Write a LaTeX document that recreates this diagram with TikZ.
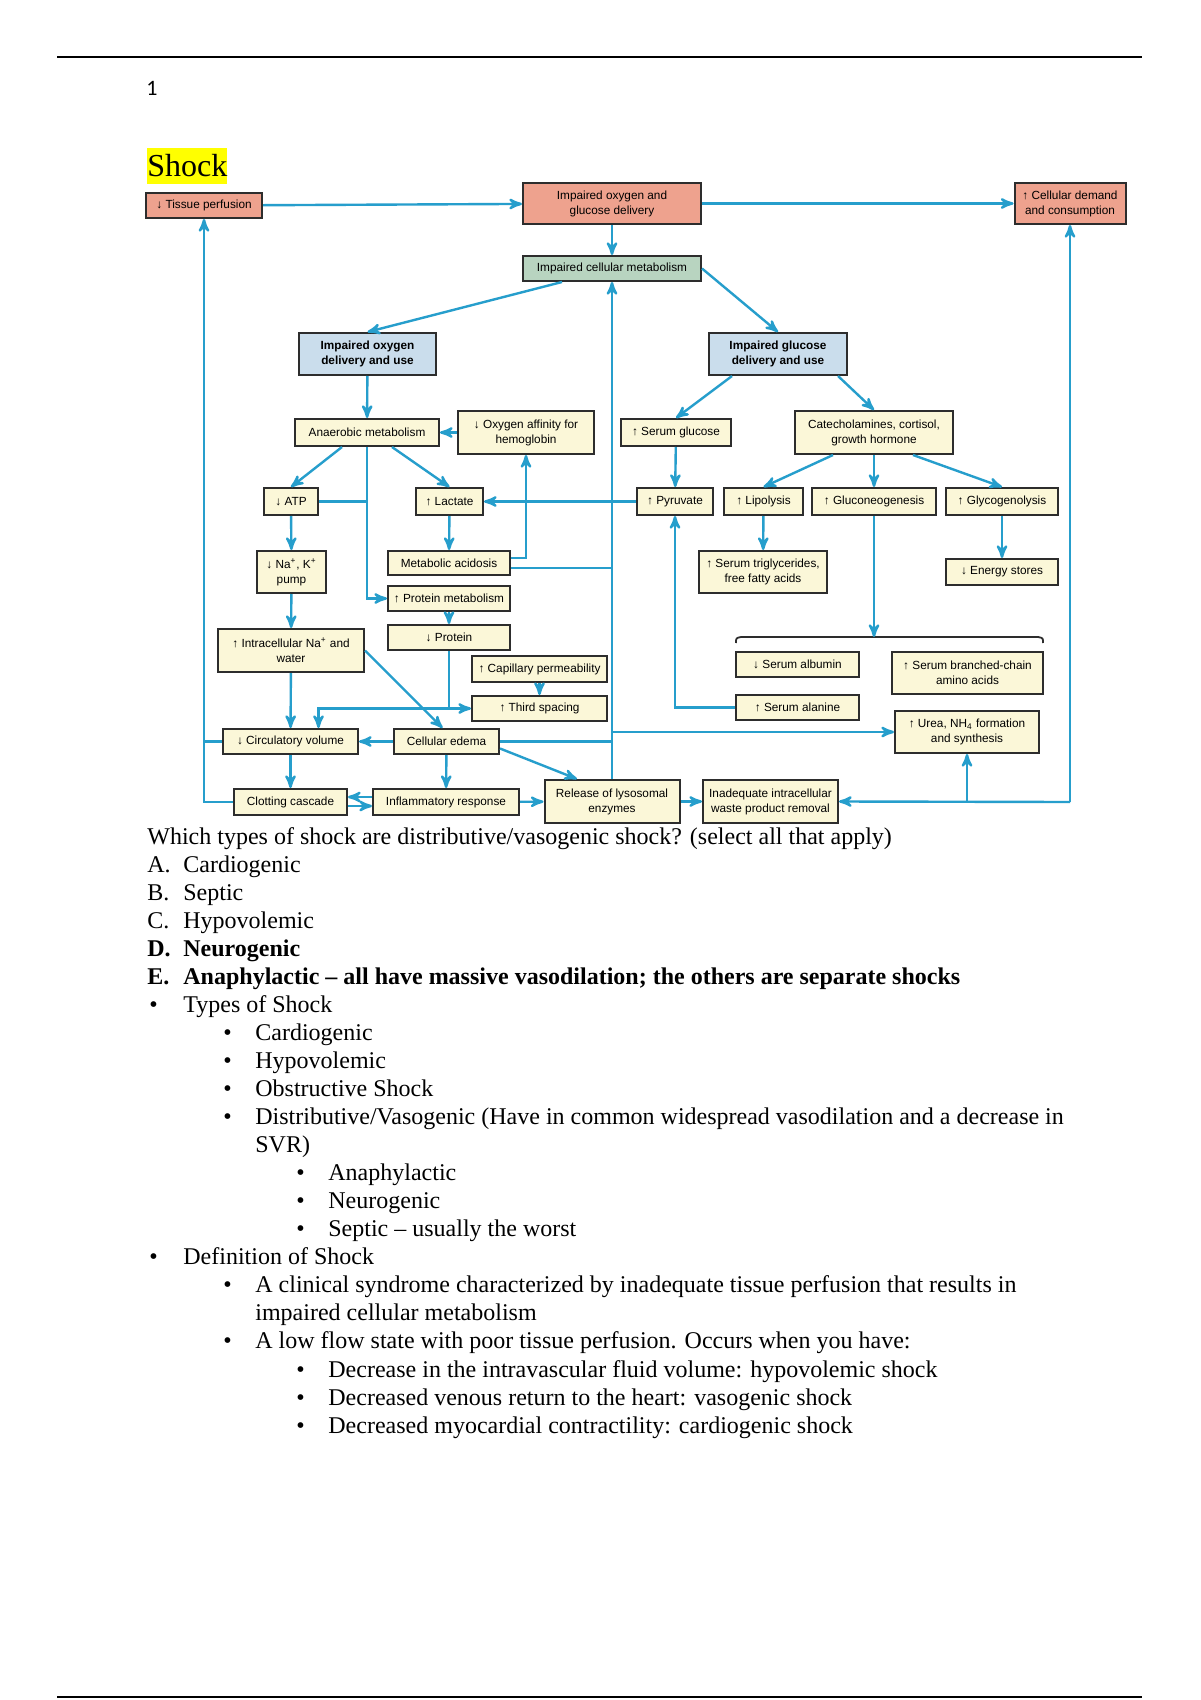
\documentclass[tikz,border=0pt]{standalone}
\usepackage{fontspec}
\setmainfont{Liberation Serif}
\newfontfamily\diagfont{Liberation Sans}
\newfontfamily\pagenumfont{Carlito}
\usepackage{xcolor}
\usepackage{tikz}
\usetikzlibrary{arrows,positioning,calc}
\definecolor{flowblue}{RGB}{38,158,204}
\definecolor{salmon}{RGB}{238,162,142}
\definecolor{sage}{RGB}{184,212,192}
\definecolor{paleblue}{RGB}{202,221,236}
\definecolor{cream}{RGB}{251,247,216}
\definecolor{boxline}{RGB}{45,45,45}
\definecolor{marker}{RGB}{255,255,0}

\begin{document}
\begin{tikzpicture}
      [x=0.5pt, y=-0.5pt, box/.style={draw=boxline, line width=1pt,
        fill=cream, align=center, inner sep=0pt,
        font=\diagfont\fontsize{5.9}{7.5}\selectfont}, dims/.style 2
      args={minimum width=#1*0.5pt, minimum height=#2*0.5pt},
      hot/.style={box, fill=salmon}, cell/.style={box, fill=sage},
      lead/.style={box, fill=paleblue,
        font=\diagfont\bfseries\fontsize{5.9}{7.5}\selectfont},
      post/.style={->, >=stealth', draw=flowblue, line width=1.2pt},
      link/.style={draw=flowblue, line width=1.2pt}, body/.style={anchor=base
        west, inner sep=0pt, font=\fontsize{12}{14}\selectfont}]

      \fill[white] (0,0) rectangle (1200,1700);
      \useasboundingbox (0,0) rectangle (1200,1700);
      \draw[line width=1.4pt] (57,57) -- (1142,57);
      \draw[line width=1.4pt] (57,1697) -- (1142,1697);

      \node [anchor=base west, inner sep=0pt, font=\pagenumfont\fontsize{11}{13}\selectfont]
      (PageNum) at (146,96) {1};
      \node [anchor=base west, inner xsep=0pt, inner ysep=0pt, fill=marker,
      text height=14.3pt, text depth=3.3pt, font=\fontsize{16}{18}\selectfont]
      (Title) at (147,177) {Shock};

      % top row
      \node [hot, dims={116}{25}] (Tissue) at (204,205.5) {↓ Tissue perfusion};
      \node [hot, dims={178}{41}] (OxGlu) at (612,203.5) {Impaired oxygen and\\glucose delivery};
      \node [hot, dims={111}{41}] (Demand) at (1070,203.5) {↑ Cellular demand\\and consumption};
      \node [cell, dims={178}{25}] (CellMet) at (612,268.5) {Impaired cellular metabolism};
      \node [lead, dims={137}{42}] (OxUse) at (367.5,354) {Impaired oxygen\\delivery and use};
      \node [lead, dims={138}{42}] (GluUse) at (778,354) {Impaired glucose\\delivery and use};

      \node [box, dims={144}{27}] (Anaer) at (367,432.5) {Anaerobic metabolism};
      \node [box, dims={136}{43}] (Affin) at (526,432.5) {↓ Oxygen affinity for\\hemoglobin};
      \node [box, dims={110}{27}] (SerGlu) at (676,432.5) {↑ Serum glucose};
      \node [box, dims={158}{43}] (Catech) at (874,432.5) {Catecholamines, cortisol,\\growth hormone};

      \node [box, dims={54}{27}] (ATP) at (291,501.5) {↓ ATP};
      \node [box, dims={67}{27}] (Lact) at (449.5,501.5) {↑ Lactate};
      \node [box, dims={76}{27}] (Pyru) at (675,501.5) {↑ Pyruvate};
      \node [box, dims={79}{27}] (Lipo) at (763.5,501.5) {↑ Lipolysis};
      \node [box, dims={124}{27}] (Gluco) at (874,501.5) {↑ Gluconeogenesis};
      \node [box, dims={112}{27}] (Glyco) at (1002,501.5) {↑ Glycogenolysis};

      \node [box, dims={69}{42}] (Pump) at (291.5,572) {↓ Na\textsuperscript{+}, K\textsuperscript{+}\\pump};
      \node [box, dims={122}{24}] (Acid) at (449,563) {Metabolic acidosis};
      \node [box, dims={128}{42}] (Trig) at (763,572) {↑ Serum triglycerides,\\free fatty acids};
      \node [box, dims={112}{26}] (Energy) at (1002,572) {↓ Energy stores};
      \node [box, dims={122}{25}] (ProtMet) at (449,598.5) {↑ Protein metabolism};
      \node [box, dims={122}{25}] (Prot) at (449,637.5) {↓ Protein};
      \node [box, dims={146}{43}] (IntraNa) at (291,650.5) {↑ Intracellular Na\textsuperscript{+} and\\water};
      \node [box, dims={135}{26}] (CapPerm) at (539.5,669) {↑ Capillary permeability};
      \node [box, dims={135}{25}] (ThirdSp) at (539.5,708.5) {↑ Third spacing};
      \node [box, dims={123}{25}] (Albumin) at (797.5,664.5) {↓ Serum albumin};
      \node [box, dims={151}{42}] (Branch) at (967.5,673) {↑ Serum branched-chain\\amino acids};
      \node [box, dims={123}{25}] (Alanine) at (797.5,707.5) {↑ Serum alanine};
      \node [box, dims={144}{42}] (Urea) at (967,732) {↑ Urea, NH\textsubscript{4} formation\\and synthesis};

      % bottom rows
      \node [box, dims={135}{25}] (CircVol) at (290.5,741.5) {↓ Circulatory volume};
      \node [box, dims={105}{25}] (Edema) at (446.5,741.5) {Cellular edema};
      \node [box, dims={113}{26}] (Clot) at (290.5,802) {Clotting cascade};
      \node [box, dims={146}{26}] (Inflam) at (446,802) {Inflammatory response};
      \node [box, dims={135}{43}] (Lyso) at (612,801.5) {Release of lysosomal\\enzymes};
      \node [box, dims={135}{43}] (Waste) at (770.5,801.5) {Inadequate intracellular\\waste product removal};

      \coordinate (BraceTop) at (874,637);
      \coordinate (RightLow) at (1070,802);
      \coordinate (Junc) at (Prot.south |- ThirdSp.west);
      \coordinate (AcidUp) at ($(Acid.east)+(0,-5)$);
      \coordinate (AcidOut) at ($(Acid.east)+(0,5)$);

      \draw[boxline, line width=0.9pt] (736,643) .. controls (736,638) .. (741,637)
      -- (1038,637) .. controls (1043,638) .. (1043,643);

      \draw[post] (Tissue) -- (OxGlu);
      \draw[post] (OxGlu) -- (Demand);
      \draw[post] (OxGlu) -- (CellMet);
      \draw[post] ($(CellMet.south)+(-50,0)$) -- (OxUse.north);
      \draw[post] (CellMet.east) -- (GluUse.north);
      \draw[post] (OxUse) -- (Anaer);
      \draw[post] (Affin) -- (Anaer);
      \draw[post] ($(GluUse.south)+(-46,0)$) -- (SerGlu.north);
      \draw[post] ($(GluUse.south)+(60,0)$) -- (Catech.north);
      \draw[post] ($(Anaer.south)+(-25,0)$) -- (ATP.north);
      \draw[post] ($(Anaer.south)+(25,0)$) -- (Lact.north);
      \draw[post] (Anaer.south) |- (ProtMet.west);
      \draw[link] (ATP.east) -- (ATP.east -| Anaer.south);
      \draw[post] (SerGlu) -- (Pyru);
      \draw[post] (Pyru) -- (Lact);
      \draw[post] ($(Catech.south)+(-41,0)$) -- (Lipo.north);
      \draw[post] (Catech) -- (Gluco);
      \draw[post] ($(Catech.south)+(39,0)$) -- (Glyco.north);
      \draw[post] (Lact) -- (Acid);
      \draw[post] (AcidUp) -| (Affin.south);
      \draw[link] (AcidOut) -- (AcidOut -| CellMet.south);
      \draw[post] (Lipo) -- (Trig);
      \draw[post] (Glyco) -- (Energy);
      \draw[post] (Gluco.south) -- (BraceTop);
      \draw[post] (Alanine.west) -| (Pyru.south);
      \draw[post] (ProtMet) -- (Prot);
      \draw[post] (ATP) -- (Pump);
      \draw[post] (Pump) -- (IntraNa);
      \draw[post] (IntraNa) -- (CircVol);
      \draw[post] (IntraNa.east) -- ($(Edema.north)+(-4,0)$);
      \draw[link] (Prot.south) -- (Junc);
      \draw[post] (Junc) -- (ThirdSp.west);
      \draw[post] (Junc) -| ($(CircVol.north)+(28,0)$);
      \draw[post] (CapPerm) -- (ThirdSp);
      \draw[post] (Edema) -- (CircVol);
      \draw[link] (Edema.east) -- (Edema.east -| Lyso.north);
      \draw[post] (Urea.west -| Lyso.north) -- (Urea.west);
      \draw[post] ($(Edema.east)+(0,7)$) -- ($(Lyso.north)+(-35,0)$);
      \draw[post] (Edema) -- (Inflam);
      \draw[post] (CircVol) -- (Clot);
      \draw[link] (CircVol.west) -- (CircVol.west -| Tissue.south);
      \draw[post] (Clot.west) -| (Tissue.south);
      \draw[post] ($(Inflam.west)+(0,-5)$) -- ($(Clot.east)+(0,-5)$);
      \draw[post] ($(Clot.east)+(0,4)$) -- ($(Inflam.west)+(0,4)$);
      \draw[post] (Inflam) -- (Lyso);
      \draw[post] (Lyso) -- (Waste);
      \draw[post] (Lyso.north) -- (CellMet.south);
      \draw[post] (RightLow) -- (Waste.east);
      \draw[post] (RightLow) -- (Demand.south);
      \draw[post] (Urea.south |- RightLow) -- (Urea.south);

      % question and notes
      \node [body] (Question) at (147,844) {Which types of shock are distributive/vasogenic shock? (select all that apply)};
      \node [body] (OptA) at (147,872) {\makebox[18pt][l]{A.}Cardiogenic};
      \node [body] (OptB) at (147,900) {\makebox[18pt][l]{B.}Septic};
      \node [body] (OptC) at (147,928) {\makebox[18pt][l]{C.}Hypovolemic};
      \node [body, font=\bfseries\fontsize{12}{14}\selectfont] (OptD) at (147,956) {\makebox[18pt][l]{D.}Neurogenic};
      \node [body, font=\bfseries\fontsize{12}{14}\selectfont] (OptE) at (147,984) {\makebox[18pt][l]{E.}Anaphylactic – all have massive vasodilation; the others are separate shocks};
      \node [body] (Types) at (149,1012) {\makebox[17pt][l]{•}Types of Shock};
      \node [body] (Cardio) at (223,1040) {\makebox[16pt][l]{•}Cardiogenic};
      \node [body] (Hypo) at (223,1068) {\makebox[16pt][l]{•}Hypovolemic};
      \node [body] (Obstr) at (223,1096) {\makebox[16pt][l]{•}Obstructive Shock};
      \node [body] (Distr) at (223,1124) {\makebox[16pt][l]{•}Distributive/Vasogenic (Have in common widespread vasodilation and a decrease in};
      \node [body] (DistrB) at (255,1152) {SVR)};
      \node [body] (Anaph) at (296,1180) {\makebox[16pt][l]{•}Anaphylactic};
      \node [body] (Neuro) at (296,1208) {\makebox[16pt][l]{•}Neurogenic};
      \node [body] (Septic) at (296,1236) {\makebox[16pt][l]{•}Septic – usually the worst};
      \node [body] (Defn) at (149,1264) {\makebox[17pt][l]{•}Definition of Shock};
      \node [body] (Clin) at (223,1292) {\makebox[16pt][l]{•}A clinical syndrome characterized by inadequate tissue perfusion that results in};
      \node [body] (ClinB) at (255,1320) {impaired cellular metabolism};
      \node [body] (LowFlow) at (223,1348) {\makebox[16pt][l]{•}A low flow state with poor tissue perfusion. Occurs when you have:};
      \node [body] (Volume) at (296,1377) {\makebox[16pt][l]{•}Decrease in the intravascular fluid volume: hypovolemic shock};
      \node [body] (Venous) at (296,1405) {\makebox[16pt][l]{•}Decreased venous return to the heart: vasogenic shock};
      \node [body] (Myo) at (296,1433) {\makebox[16pt][l]{•}Decreased myocardial contractility: cardiogenic shock};
    \end{tikzpicture}
\end{document}
